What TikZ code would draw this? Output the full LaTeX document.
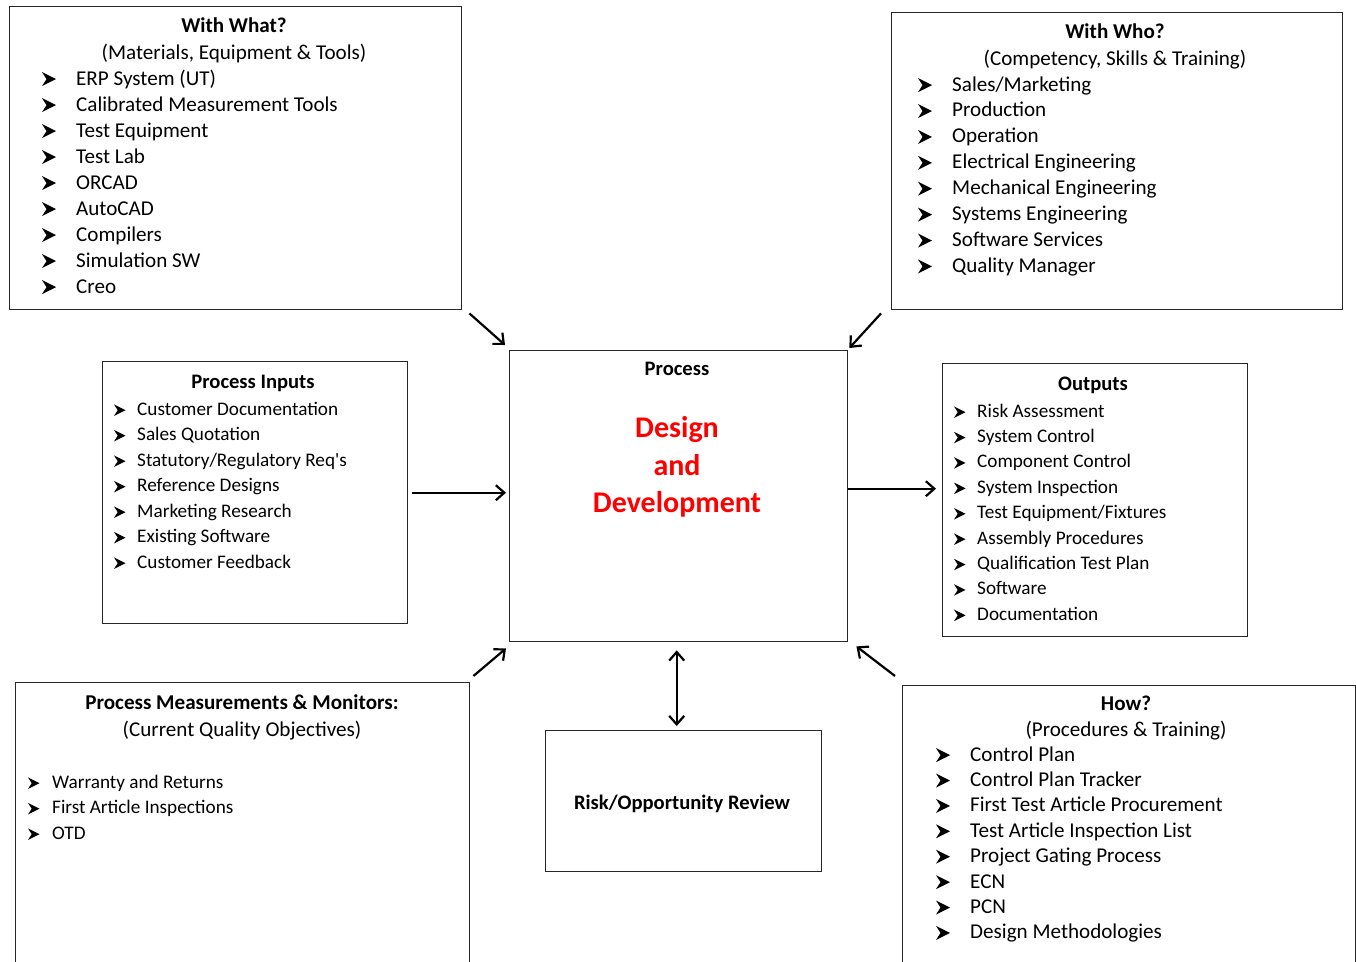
\documentclass[tikz,border=0pt]{standalone}
\usepackage{fontspec}
\setmainfont{Carlito}[Ligatures=TeXOff]
\usetikzlibrary{arrows.meta}

\definecolor{framegray}{gray}{0.15}
\definecolor{hotred}{RGB}{255,0,0}

\tikzset{
  frame/.style={draw=framegray, line width=1.4pt, inner sep=0pt, anchor=north west},
  barb/.tip={Straight Barb[length=8.5pt,width=15pt,line width=2.2pt]},
  flow/.style={line width=2.2pt, -{barb}},
  twoway/.style={line width=2.2pt, {barb}-{barb}},
  txt/.style={inner sep=0pt, anchor=base},
  ltxt/.style={inner sep=0pt, anchor=base west},
  bigfont/.style={font=\fontsize{21.1}{25}\selectfont},
  smallfont/.style={font=\fontsize{19.2}{23}\selectfont},
  smalltitle/.style={font=\fontsize{20.6}{24}\selectfont\bfseries},
  redfont/.style={font=\fontsize{30}{36}\selectfont\bfseries, text=hotred},
}

% #1 name prefix, #2 bullet x, #3 text x, #4 first baseline, #5 line step,
% #6 font style, #7 bullet size, #8 items
\newcommand\bulletlist[8]{%
  \foreach \t [count=\i from 0] in {#8} {
    \fill[shift={(#2,{#4+\i*#5-0.42*#7})}, scale=#7/14]
      (0,-7) -- (14,0) -- (0,7) -- (4.5,0) -- cycle;
    \node[ltxt, #6] (#1t\i) at (#3, {#4+\i*#5}) {\t};
  }%
}

\begin{document}
\begin{tikzpicture}[x=1pt, y=-1pt]
\clip (0,0) rectangle (1356,961);
\fill[white] (0,0) rectangle (1356,961);

% boxes
\node[frame, minimum width=452pt, minimum height=303pt] (what) at (9,6) {};
\node[frame, minimum width=451pt, minimum height=297pt] (who) at (891,12) {};
\node[frame, minimum width=305pt, minimum height=262pt] (inp) at (102,361) {};
\node[frame, minimum width=338pt, minimum height=291pt] (proc) at (509,350) {};
\node[frame, minimum width=305pt, minimum height=273pt] (out) at (942,363) {};
\node[frame, minimum width=454pt, minimum height=300pt] (meas) at (15,682) {};
\node[frame, minimum width=276pt, minimum height=141pt] (risk) at (545,730) {};
\node[frame, minimum width=453pt, minimum height=300pt] (how) at (902,685) {};

% With What?
\node[txt, bigfont] (whatT) at (234,32) {\bfseries With What?};
\node[txt, bigfont] (whatS) at (234,59) {(Materials, Equipment \& Tools)};
\bulletlist{what}{42}{76}{85}{26}{bigfont}{14}{ERP System (UT), Calibrated Measurement Tools, Test Equipment, Test Lab, ORCAD, AutoCAD, Compilers, Simulation SW, Creo}

% With Who?
\node[txt, bigfont] (whoT) at (1115,38) {\bfseries With Who?};
\node[txt, bigfont] (whoS) at (1115,65) {(Competency, Skills \& Training)};
\bulletlist{who}{918}{952}{91}{25.9}{bigfont}{14}{Sales/Marketing, Production, Operation, Electrical Engineering, Mechanical Engineering, Systems Engineering, Software Services, Quality Manager}

% Process Inputs
\node[txt, smalltitle] (inpT) at (253,388) {Process Inputs};
\bulletlist{inp}{114}{137}{415}{25.5}{smallfont}{11.5}{Customer Documentation, Sales Quotation, Statutory/Regulatory Req's, Reference Designs, Marketing Research, Existing Software, Customer Feedback}

% Process
\node[txt, smalltitle] (procT) at (677,375) {Process};
\node[txt, redfont] (procA) at (677,437) {Design};
\node[txt, redfont] (procB) at (677,475) {and};
\node[txt, redfont] (procC) at (677,512) {Development};

% Outputs
\node[txt, smalltitle] (outT) at (1093,390) {Outputs};
\bulletlist{out}{954}{977}{417}{25.4}{smallfont}{11.5}{Risk Assessment, System Control, Component Control, System Inspection, Test Equipment/Fixtures, Assembly Procedures, Qualification Test Plan, Software, Documentation}

% Process Measurements & Monitors
\node[txt, bigfont] (measT) at (242,709) {\bfseries Process Measurements \& Monitors:};
\node[txt, bigfont] (measS) at (242,736) {(Current Quality Objectives)};
\bulletlist{meas}{28}{52}{788}{25.5}{smallfont}{11.5}{Warranty and Returns, First Article Inspections, OTD}

% Risk review
\node[txt, smalltitle] (riskT) at (682,809) {Risk/Opportunity Review};

% How?
\node[txt, bigfont] (howT) at (1126,710) {\bfseries How?};
\node[txt, bigfont] (howS) at (1126,736) {(Procedures \& Training)};
\bulletlist{how}{936}{970}{761}{25.4}{bigfont}{14}{Control Plan, Control Plan Tracker, First Test Article Procurement, Test Article Inspection List, Project Gating Process, ECN, PCN, Design Methodologies}

% connectors
\draw[flow] ([shift={(7pt,-3pt)}]what.south east) -- ([shift={(-4pt,5pt)}]proc.north west);
\draw[flow] ([shift={(-10pt,-3pt)}]who.south west) -- ([shift={(1pt,2pt)}]proc.north east);
\draw[flow] ([xshift=4pt]inp.east) -- ([xshift=-3pt]inp.east -| proc.west);
\draw[flow] ([yshift=7.5pt]proc.east) -- ([shift={(-6pt,11.5pt)}]out.west);
\draw[flow] ([shift={(3pt,6pt)}]meas.north east) -- ([shift={(-3pt,-6pt)}]proc.south west);
\draw[flow] ([shift={(-7pt,9pt)}]how.north west) -- ([shift={(8pt,-4pt)}]proc.south east);
\draw[twoway] ([shift={(-2pt,-8pt)}]proc.south) -- ([shift={(-2pt,4pt)}]proc.south |- risk.north);
\end{tikzpicture}
\end{document}
